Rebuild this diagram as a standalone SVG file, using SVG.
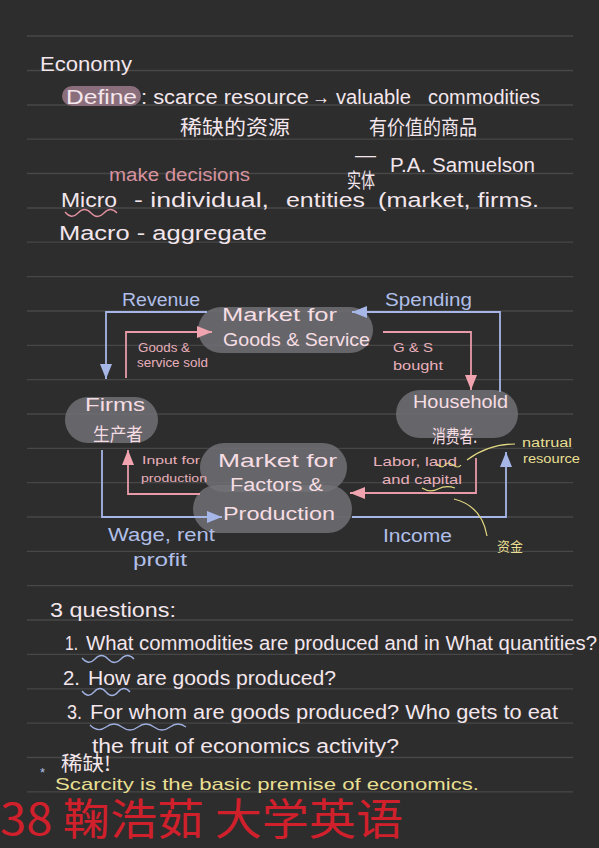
<svg xmlns="http://www.w3.org/2000/svg" width="599" height="848" viewBox="0 0 599 848">
<style>
text{font-family:"Liberation Sans","Noto Sans CJK SC",sans-serif;}
.cjk{font-family:"Noto Sans CJK SC",sans-serif;}
.w{fill:#f3e6ec;font-size:20px;}
.pk{fill:#e8b0bb;}
.bl{fill:#b0bfe8;}
.yl{fill:#e8df92;}
.nt{fill:#f6dde3;font-size:18px;}
.sm{font-size:12px;}
.rule{stroke:#474747;stroke-width:1.3;}
.pill{fill:#717176;fill-opacity:0.85;}
.cb{fill:none;stroke:#a6b6e6;stroke-width:1.8;}
.cp{fill:none;stroke:#e89aa8;stroke-width:1.8;}
.wb{fill:none;stroke:#9fb0e0;stroke-width:1.3;}
.wp{fill:none;stroke:#e0909e;stroke-width:1.3;}
.wy{fill:none;stroke:#e3d882;stroke-width:1.2;}
</style>
<defs>
<marker id="ab" viewBox="0 0 15 12" refX="15" refY="6" markerWidth="15" markerHeight="12" markerUnits="userSpaceOnUse" orient="auto"><path d="M0,0 L15,6 L0,12 z" fill="#a6b6e6"/></marker>
<marker id="ap" viewBox="0 0 15 12" refX="15" refY="6" markerWidth="15" markerHeight="12" markerUnits="userSpaceOnUse" orient="auto"><path d="M0,0 L15,6 L0,12 z" fill="#f0a4b0"/></marker>
</defs>
<rect width="599" height="848" fill="#2d2d2d"/>
<g id="rules">
<path class="rule" d="M27,36H573M27,70.5H573M27,105H573M27,139.2H573M27,173.5H573M27,208H573M27,242.2H573M27,276.6H573M27,311H573M27,345.3H573M27,379.6H573M27,414H573M27,448.3H573M27,482.7H573M27,517H573M27,551.4H573M27,585.7H573M27,620H573M27,654.4H573M27,688.8H573M27,723.1H573M27,757.5H573M27,791.8H573"/>
</g>

<!-- header notes -->
<text class="w" x="40" y="71" font-size="24" textLength="92" lengthAdjust="spacingAndGlyphs">Economy</text>
<rect x="62" y="86" width="79" height="20" rx="10" fill="#8a6e7b"/>
<text class="w" x="66" y="104" font-size="22" textLength="71" lengthAdjust="spacingAndGlyphs">Define</text>
<text class="w" x="141" y="104" textLength="168" lengthAdjust="spacingAndGlyphs">: scarce resource</text>
<text class="w" x="312" y="104" font-size="22" textLength="18" lengthAdjust="spacingAndGlyphs">→</text>
<text class="w" x="336" y="104" textLength="75" lengthAdjust="spacingAndGlyphs">valuable</text>
<text class="w" x="428" y="104" textLength="112" lengthAdjust="spacingAndGlyphs">commodities</text>
<text class="w cjk" x="180" y="135" font-size="17" textLength="110" lengthAdjust="spacingAndGlyphs">稀缺的资源</text>
<text class="w cjk" x="369" y="135" font-size="17" textLength="108" lengthAdjust="spacingAndGlyphs">有价值的商品</text>
<text class="w" x="355" y="162" font-size="16" textLength="21" lengthAdjust="spacingAndGlyphs">—</text>
<text class="w" x="390" y="172" textLength="145" lengthAdjust="spacingAndGlyphs">P.A. Samuelson</text>
<text class="pk" x="109" y="181" font-size="18" textLength="141" lengthAdjust="spacingAndGlyphs" style="fill:#d8929f">make decisions</text>
<text class="w cjk" x="347" y="188" font-size="11" textLength="28" lengthAdjust="spacingAndGlyphs">实体</text>
<text class="w" x="61" y="207" textLength="56" lengthAdjust="spacingAndGlyphs">Micro</text>
<text class="w" x="134" y="207" textLength="135" lengthAdjust="spacingAndGlyphs">- individual,</text>
<text class="w" x="286" y="207" font-size="18" textLength="79" lengthAdjust="spacingAndGlyphs">entities</text>
<text class="w" x="378" y="207" textLength="161" lengthAdjust="spacingAndGlyphs">(market, firms.</text>
<path class="wp" d="M65,212 q6.5,8 13,1 t13,0 t13,0 t13,0"/>
<text class="w" x="59" y="240" textLength="208" lengthAdjust="spacingAndGlyphs">Macro - aggregate</text>

<!-- nodes -->
<g id="market-goods">
<rect class="pill" x="198" y="307" width="175" height="46" rx="23"/>
<text class="nt" x="222" y="321" textLength="115" lengthAdjust="spacingAndGlyphs">Market for</text>
<text class="nt" x="223" y="346" textLength="147" lengthAdjust="spacingAndGlyphs">Goods &amp; Service</text>
</g>
<g id="firms">
<rect class="pill" x="65" y="397" width="93" height="46" rx="23"/>
<text class="nt" x="85" y="411" textLength="60" lengthAdjust="spacingAndGlyphs">Firms</text>
<text class="nt cjk" x="93" y="441" font-size="15" textLength="50" lengthAdjust="spacingAndGlyphs">生产者</text>
</g>
<g id="household">
<rect class="pill" x="396" y="390" width="122" height="48" rx="24"/>
<text class="nt" x="413" y="408" textLength="95" lengthAdjust="spacingAndGlyphs">Household</text>
<text class="nt cjk" x="432" y="443" font-size="15" textLength="45" lengthAdjust="spacingAndGlyphs">消费者.</text>
</g>
<g id="market-factors">
<rect class="pill" x="200" y="443" width="147" height="49" rx="24.5"/>
<rect class="pill" x="193" y="485" width="159" height="48" rx="24"/>
<text class="nt" x="218" y="467" font-size="19" textLength="119" lengthAdjust="spacingAndGlyphs">Market for</text>
<text class="nt" x="230" y="491" font-size="19" textLength="93" lengthAdjust="spacingAndGlyphs">Factors &amp;</text>
<text class="nt" x="223" y="520" font-size="19" textLength="112" lengthAdjust="spacingAndGlyphs">Production</text>
</g>

<!-- connectors -->
<g id="connectors">
<path class="cb" d="M207,312 H106 V379" marker-end="url(#ab)"/>
<path class="cp" d="M126,378 V332 H212" marker-end="url(#ap)"/>
<path class="cb" d="M500,392 V312 H352" marker-end="url(#ab)"/>
<path class="cp" d="M383,332 H471 V390" marker-end="url(#ap)"/>
<path class="cb" d="M102,450 V517 H222" marker-end="url(#ab)"/>
<path class="cp" d="M200,494 H128 V450" marker-end="url(#ap)"/>
<path class="cb" d="M352,517 H506 V452" marker-end="url(#ab)"/>
<path class="cp" d="M476,458 V493 H350" marker-end="url(#ap)"/>
<path class="wy" d="M467,460 Q488,444 515,444"/>
<path class="wy" d="M454,499 Q482,506 487,536"/>
</g>

<!-- connector labels -->
<text class="bl" x="122" y="306" font-size="18" textLength="78" lengthAdjust="spacingAndGlyphs">Revenue</text>
<text class="bl" x="385" y="306" font-size="18" textLength="87" lengthAdjust="spacingAndGlyphs">Spending</text>
<text class="pk sm" x="138" y="352" textLength="52" lengthAdjust="spacingAndGlyphs">Goods &amp;</text>
<text class="pk sm" x="137" y="367" textLength="71" lengthAdjust="spacingAndGlyphs">service sold</text>
<text class="pk sm" x="393" y="352" font-size="13" textLength="40" lengthAdjust="spacingAndGlyphs">G &amp; S</text>
<text class="pk sm" x="393" y="370" font-size="13" textLength="50" lengthAdjust="spacingAndGlyphs">bought</text>
<text class="pk" x="142" y="464" font-size="11" textLength="58" lengthAdjust="spacingAndGlyphs">Input for</text>
<text class="pk" x="141" y="482" font-size="11" textLength="66" lengthAdjust="spacingAndGlyphs">production</text>
<text class="pk" x="373" y="466" font-size="13" textLength="84" lengthAdjust="spacingAndGlyphs">Labor, land</text>
<text class="pk" x="382" y="484" font-size="13" textLength="80" lengthAdjust="spacingAndGlyphs">and capital</text>
<path class="wy" d="M437,464 q5,5 8,1 t8,0 t8,0"/>
<path class="wy" d="M422,488 q8,5 16,1 t17,-1"/>
<text class="yl" x="522" y="447" font-size="12" textLength="50" lengthAdjust="spacingAndGlyphs">natrual</text>
<text class="yl" x="523" y="463" font-size="12" textLength="57" lengthAdjust="spacingAndGlyphs">resource</text>
<text class="yl cjk" x="497" y="551" font-size="13" textLength="26" lengthAdjust="spacingAndGlyphs">资金</text>
<text class="bl" x="383" y="542" font-size="18" textLength="69" lengthAdjust="spacingAndGlyphs">Income</text>
<text class="bl" x="108" y="541" font-size="18" textLength="107" lengthAdjust="spacingAndGlyphs">Wage, rent</text>
<text class="bl" x="133" y="566" font-size="18" textLength="54" lengthAdjust="spacingAndGlyphs">profit</text>

<!-- questions -->
<text class="w" x="50" y="617" font-size="19" textLength="126" lengthAdjust="spacingAndGlyphs">3 questions:</text>
<text class="w" x="65" y="650" font-size="18" textLength="13" lengthAdjust="spacingAndGlyphs">1.</text>
<text class="w" x="86" y="650" font-size="18" textLength="511" lengthAdjust="spacingAndGlyphs">What commodities are produced and in What quantities?</text>
<path class="wb" d="M82,658 q6.5,8 13,1 t13,0 t13,0 t13,0"/>
<text class="w" x="63" y="685" font-size="18" textLength="17" lengthAdjust="spacingAndGlyphs">2.</text>
<text class="w" x="88" y="685" font-size="18" textLength="248" lengthAdjust="spacingAndGlyphs">How are goods produced?</text>
<path class="wb" d="M82,691 q6,8 12,1 t12,0 t12,0 t12,0"/>
<text class="w" x="67" y="719" font-size="18" textLength="15" lengthAdjust="spacingAndGlyphs">3.</text>
<text class="w" x="90" y="719" font-size="18" textLength="468" lengthAdjust="spacingAndGlyphs">For whom are goods produced? Who gets to eat</text>
<path class="wb" d="M90,725 q8,8 16,2 t16,0 t16,0 t16,0 t16,0 t16,0"/>
<text class="w" x="92" y="753" font-size="18" textLength="307" lengthAdjust="spacingAndGlyphs">the fruit of economics activity?</text>
<text class="bl" x="40" y="777" font-size="13">*</text>
<text class="w cjk" x="61" y="771" font-size="11" textLength="50" lengthAdjust="spacingAndGlyphs">稀缺!</text>
<text class="yl" x="55" y="790" font-size="17" textLength="424" lengthAdjust="spacingAndGlyphs">Scarcity is the basic premise of economics.</text>
<text x="0" y="835" font-size="43" fill="#d0202b" class="cjk" textLength="403" lengthAdjust="spacingAndGlyphs">38 鞠浩茹 大学英语</text>
</svg>
